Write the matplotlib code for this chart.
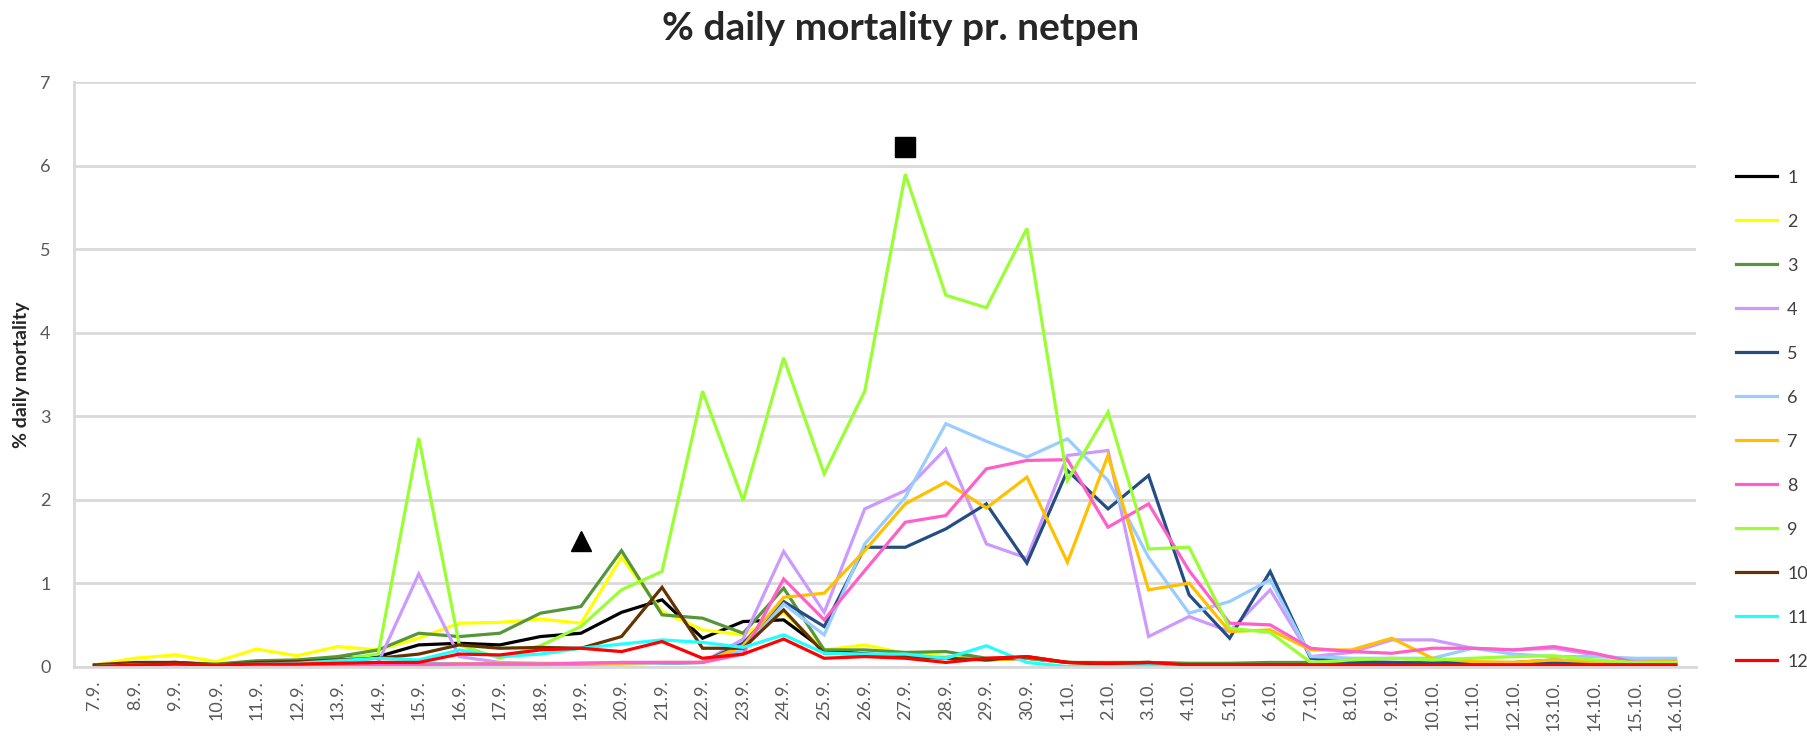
import matplotlib
matplotlib.use('Agg')
import matplotlib.pyplot as plt

# dates on the x axis (Sept - Oct)
dates = ['7.9.', '8.9.', '9.9.', '10.9.', '11.9.', '12.9.', '13.9.', '14.9.', '15.9.', '16.9.',
         '17.9.', '18.9.', '19.9.', '20.9.', '21.9.', '22.9.', '23.9.', '24.9.', '25.9.', '26.9.',
         '27.9.', '28.9.', '29.9.', '30.9.', '1.10.', '2.10.', '3.10.', '4.10.', '5.10.', '6.10.',
         '7.10.', '8.10.', '9.10.', '10.10.', '11.10.', '12.10.', '13.10.', '14.10.', '15.10.', '16.10.']

# % daily mortality per netpen
pen1 = [0.02, 0.04, 0.05, 0.02, 0.05, 0.07, 0.10, 0.12, 0.26, 0.28, 0.26, 0.36, 0.40, 0.65, 0.80, 0.34,
        0.54, 0.56, 0.20, 0.15, 0.13, 0.12, 0.08, 0.10, 0.05, 0.04, 0.05, 0.03, 0.02, 0.03, 0.02, 0.02,
        0.02, 0.02, 0.02, 0.02, 0.03, 0.02, 0.01, 0.01]
pen2 = [0.02, 0.10, 0.14, 0.06, 0.21, 0.13, 0.24, 0.20, 0.34, 0.52, 0.53, 0.57, 0.52, 1.31, 0.66, 0.44,
        0.38, 0.65, 0.20, 0.26, 0.16, 0.12, 0.08, 0.10, 0.05, 0.04, 0.04, 0.03, 0.03, 0.03, 0.02, 0.03,
        0.03, 0.02, 0.02, 0.03, 0.03, 0.02, 0.01, 0.01]
pen3 = [0.01, 0.03, 0.05, 0.03, 0.07, 0.08, 0.12, 0.20, 0.40, 0.36, 0.40, 0.64, 0.72, 1.39, 0.62, 0.58,
        0.40, 0.94, 0.20, 0.20, 0.17, 0.18, 0.10, 0.10, 0.05, 0.05, 0.05, 0.04, 0.04, 0.05, 0.05, 0.05,
        0.05, 0.05, 0.05, 0.05, 0.08, 0.05, 0.02, 0.02]
pen4 = [0.01, 0.01, 0.02, 0.01, 0.02, 0.02, 0.03, 0.05, 1.11, 0.12, 0.05, 0.04, 0.04, 0.05, 0.05, 0.05,
        0.33, 1.38, 0.65, 1.89, 2.11, 2.61, 1.47, 1.30, 2.53, 2.59, 0.36, 0.60, 0.42, 0.92, 0.12, 0.17,
        0.32, 0.32, 0.22, 0.20, 0.22, 0.14, 0.08, 0.08]
pen5 = [0.01, 0.01, 0.01, 0.01, 0.01, 0.01, 0.02, 0.02, 0.03, 0.03, 0.03, 0.03, 0.03, 0.04, 0.04, 0.05,
        0.28, 0.78, 0.48, 1.43, 1.43, 1.65, 1.95, 1.24, 2.35, 1.89, 2.29, 0.86, 0.34, 1.14, 0.10, 0.06,
        0.05, 0.04, 0.04, 0.04, 0.04, 0.03, 0.03, 0.03]
pen6 = [0.01, 0.01, 0.01, 0.01, 0.01, 0.01, 0.02, 0.02, 0.02, 0.02, 0.03, 0.03, 0.03, 0.03, 0.04, 0.05,
        0.20, 0.75, 0.38, 1.47, 2.03, 2.91, 2.70, 2.51, 2.73, 2.23, 1.31, 0.64, 0.78, 1.04, 0.12, 0.10,
        0.10, 0.10, 0.22, 0.15, 0.12, 0.12, 0.10, 0.10]
pen7 = [0.01, 0.01, 0.01, 0.01, 0.01, 0.02, 0.02, 0.02, 0.02, 0.03, 0.03, 0.03, 0.04, 0.04, 0.05, 0.05,
        0.25, 0.83, 0.88, 1.39, 1.95, 2.21, 1.90, 2.27, 1.25, 2.53, 0.92, 1.00, 0.42, 0.44, 0.20, 0.20,
        0.34, 0.10, 0.06, 0.05, 0.08, 0.06, 0.05, 0.07]
pen8 = [0.00, 0.00, 0.01, 0.00, 0.01, 0.01, 0.01, 0.02, 0.02, 0.03, 0.03, 0.03, 0.04, 0.05, 0.05, 0.05,
        0.15, 1.05, 0.56, 1.15, 1.73, 1.81, 2.37, 2.47, 2.48, 1.67, 1.95, 1.15, 0.52, 0.50, 0.22, 0.18,
        0.16, 0.22, 0.22, 0.20, 0.24, 0.16, 0.05, 0.05]
pen9 = [0.00, 0.02, 0.03, 0.01, 0.04, 0.05, 0.08, 0.15, 2.74, 0.26, 0.10, 0.25, 0.48, 0.92, 1.14, 3.30,
        1.99, 3.70, 2.31, 3.30, 5.90, 4.45, 4.30, 5.25, 2.23, 3.05, 1.41, 1.43, 0.46, 0.41, 0.05, 0.08,
        0.10, 0.08, 0.10, 0.12, 0.13, 0.08, 0.05, 0.05]
pen10 = [0.02, 0.05, 0.05, 0.02, 0.05, 0.06, 0.08, 0.10, 0.15, 0.26, 0.22, 0.23, 0.22, 0.36, 0.95, 0.22,
         0.22, 0.68, 0.16, 0.15, 0.12, 0.10, 0.08, 0.12, 0.05, 0.03, 0.03, 0.02, 0.02, 0.02, 0.02, 0.02,
         0.02, 0.02, 0.02, 0.02, 0.02, 0.02, 0.02, 0.02]
pen11 = [0.00, 0.02, 0.02, 0.02, 0.03, 0.04, 0.07, 0.10, 0.08, 0.20, 0.12, 0.15, 0.22, 0.27, 0.32, 0.29,
         0.23, 0.38, 0.16, 0.15, 0.15, 0.10, 0.25, 0.05, 0.00, 0.00, 0.01, 0.01, 0.01, 0.01, 0.01, 0.01,
         0.01, 0.01, 0.01, 0.01, 0.01, 0.01, 0.01, 0.01]
pen12 = [0.00, 0.02, 0.03, 0.02, 0.03, 0.03, 0.04, 0.05, 0.05, 0.15, 0.14, 0.20, 0.22, 0.18, 0.30, 0.10,
         0.15, 0.33, 0.10, 0.12, 0.10, 0.05, 0.10, 0.12, 0.05, 0.04, 0.05, 0.02, 0.02, 0.02, 0.02, 0.02,
         0.02, 0.02, 0.02, 0.02, 0.02, 0.02, 0.02, 0.02]

series = [pen1, pen2, pen3, pen4, pen5, pen6, pen7, pen8, pen9, pen10, pen11, pen12]
labels = ['1', '2', '3', '4', '5', '6', '7', '8', '9', '10', '11', '12']
colors = ['#000000', '#FFFF00', '#55963A', '#CC99FF', '#244E83', '#99CCFF',
          '#FFC000', '#FF5FC8', '#99FF33', '#663300', '#22FFFF', '#FF0000']

# event markers drawn on the chart (triangle and square)
triangle_x, triangle_y = ['19.9.'], [1.5]
square_x, square_y = ['27.9.'], [6.22]

plt.rcParams['font.family'] = ['Lato', 'DejaVu Sans']

fig = plt.figure(figsize=(18.08, 7.49), dpi=100)
ax = fig.add_axes([0.041, 0.110, 0.897, 0.780])

x = list(range(len(dates)))
for vals, lab, col in zip(series, labels, colors):
    ax.plot(x, vals, color=col, linewidth=2.3, label=lab, solid_joinstyle='miter')

ax.plot([dates.index(d) for d in triangle_x], triangle_y, marker='^', color='black',
        markersize=15, linestyle='none')
ax.plot([dates.index(d) for d in square_x], square_y, marker='s', color='black',
        markersize=14, linestyle='none')

ax.set_xlim(-0.5, len(dates) - 0.5)
ax.set_ylim(0, 7)
ax.set_yticks(range(0, 8))
ax.set_xticks(x)
ax.set_xticklabels(dates, rotation=90)

ax.grid(axis='y', color='#D9D9D9', linewidth=2)
ax.set_axisbelow(True)
for side in ['top', 'right']:
    ax.spines[side].set_visible(False)
for side in ['left', 'bottom']:
    ax.spines[side].set_color('#D9D9D9')
    ax.spines[side].set_linewidth(2)
ax.tick_params(axis='both', length=0, labelsize=13, colors='#595959')
ax.tick_params(axis='y', pad=17)
ax.tick_params(axis='x', pad=10)

fig.text(0.012, 0.5, '% daily mortality', rotation=90, ha='center', va='center',
         fontsize=14, fontweight='bold', color='#262626')
fig.text(0.498, 0.962, '% daily mortality pr. netpen', ha='center', va='center',
         fontsize=28, fontweight='bold', color='#262626')

fig.legend(loc='upper left', bbox_to_anchor=(0.951, 0.795), frameon=False,
           fontsize=13, handlelength=2.3, handletextpad=0.55, labelspacing=1.55,
           labelcolor='#404040')

plt.savefig('out.png', dpi=100)
plt.close()
